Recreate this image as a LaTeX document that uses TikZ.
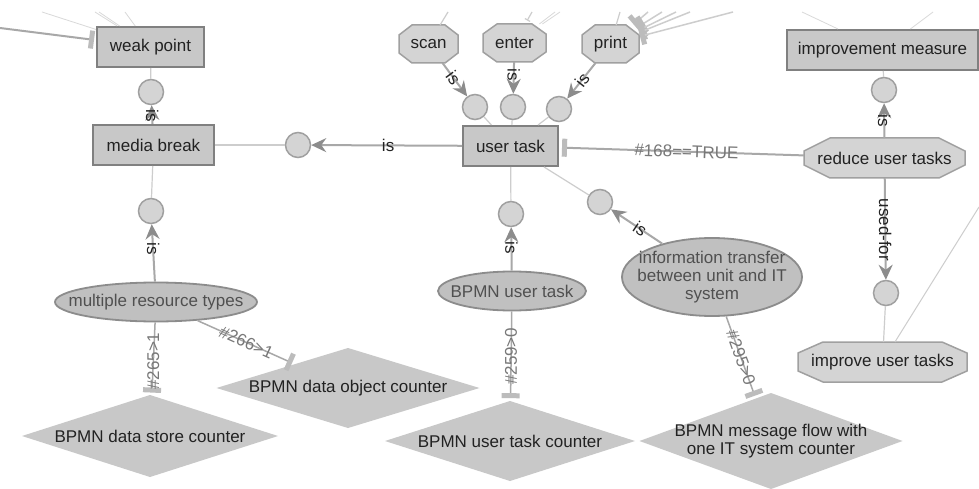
\documentclass[tikz,border=0pt]{standalone}
\usepackage{fontspec}
\setmainfont{Liberation Sans}
\usepackage{tikz}
\usetikzlibrary{shapes.geometric, arrows.meta, backgrounds}

\definecolor{boxfill}{RGB}{200,200,200}
\definecolor{boxline}{RGB}{128,128,128}
\definecolor{dotfill}{RGB}{212,212,212}
\definecolor{dotline}{RGB}{160,160,160}
\definecolor{octfill}{RGB}{212,212,212}
\definecolor{octline}{RGB}{160,160,160}
\definecolor{ellfill}{RGB}{192,192,192}
\definecolor{ellline}{RGB}{140,140,140}
\definecolor{dmdfill}{RGB}{200,200,200}
\definecolor{linkcol}{RGB}{205,205,205}
\definecolor{arrcol}{RGB}{168,168,168}
\definecolor{tipcol}{RGB}{140,140,140}
\definecolor{barcol}{RGB}{188,188,188}
\definecolor{labgray}{RGB}{120,120,120}
\definecolor{txt}{RGB}{34,34,34}
\definecolor{elltxt}{RGB}{80,80,80}

\begin{document}
\begin{tikzpicture}[x=1pt, y=-1pt, font=\fontsize{17pt}{18pt}\selectfont, text=txt,
    box/.style={rectangle, draw=boxline, fill=boxfill, line width=2pt, minimum height=40pt},
    dot/.style={circle, draw=dotline, fill=dotfill, line width=1.5pt, minimum size=25pt, inner sep=0pt},
    octo/.style={rectangle, outer sep=0pt, minimum height=38pt},
    oval/.style={ellipse, draw=ellline, fill=ellfill, line width=1.8pt, inner xsep=-25pt, inner ysep=0pt, text=elltxt, align=center},
    dmd/.style={diamond, fill=dmdfill, aspect=3, inner sep=-15pt, outer sep=0pt, align=center},
    link/.style={draw=linkcol, line width=1.2pt},
    faint/.style={draw=linkcol!75, line width=.8pt},
    isarrow/.style={draw=arrcol, line width=2pt, -{Stealth[length=15pt,width=14pt,inset=5pt,color=tipcol]}},
    tbar/.style={draw=arrcol, line width=1.5pt, shorten >=3pt, -{Bar[width=18pt,line width=5pt,color=barcol]}},
    cntlab/.style={text=labgray}]
    \useasboundingbox (0,0) rectangle (979,489);
    \begin{scope}[on background layer]
        \fill[white] (0,0) rectangle (979,489);
    \end{scope}

    % concepts
    \node[box, minimum width=107pt] (weak) at (150.5,47) {weak point};
    \node[box, minimum width=121pt] (media) at (153.5,145) {media break};
    \node[box, minimum width=95pt] (user) at (510.5,146) {user task};
    \node[box, minimum width=191pt] (measure) at (882.5,50) {improvement measure};

    \node[octo, minimum width=59pt] (scan) at (428.5,44) {scan};
    \node[octo, minimum width=63pt] (enter) at (514.5,43) {enter};
    \node[octo, minimum width=57pt] (print) at (610.5,44) {print};
    \node[octo, minimum width=161pt, minimum height=40pt] (reduce) at (884.5,158) {reduce user tasks};
    \node[octo, minimum width=169pt, minimum height=40pt] (improve) at (882.5,362) {improve user tasks};

    \node[oval, minimum width=202pt, minimum height=39pt] (multi) at (156,302) {multiple resource types};
    \node[oval, minimum width=148pt, minimum height=39pt] (bpmnut) at (512,291) {BPMN user task};
    \node[oval, minimum width=180pt, minimum height=78pt] (info) at (712,277) {information transfer\\between unit and IT\\system};

    \node[dmd, minimum width=256pt, minimum height=82pt] (store) at (150,436) {BPMN data store counter};
    \node[dmd, minimum width=263pt, minimum height=80pt] (object) at (348,388) {BPMN data object counter};
    \node[dmd, minimum width=250pt, minimum height=80pt] (utcount) at (510,441) {BPMN user task counter};
    \node[dmd, minimum width=263pt, minimum height=96pt] (msgflow) at (771,441) {BPMN message flow with\\one IT system counter};

    % relation dots
    \node[dot] (dotweak) at (151,92) {};
    \node[dot] (dotmedia) at (298,145) {};
    \node[dot] (dotres) at (151,211) {};
    \node[dot] (dotscan) at (475,107) {};
    \node[dot] (dotenter) at (513,107) {};
    \node[dot] (dotprint) at (559,109) {};
    \node[dot] (dotbpmn) at (511,214) {};
    \node[dot] (dotinfo) at (600,202) {};
    \node[dot] (dotmeasure) at (884,90) {};
    \node[dot] (dotimprove) at (886,293) {};

    % octagon outlines
    \begin{scope}[on background layer]
        \foreach \n/\cx/\cy in {scan/13/10, enter/14/10, print/13/10, reduce/26/13, improve/25/11}
            \filldraw[fill=octfill, draw=octline, line width=1.5pt]
                ([xshift=\cx pt]\n.north west) -- ([xshift=-\cx pt]\n.north east)
                -- ([yshift=-\cy pt]\n.north east) -- ([yshift=\cy pt]\n.south east)
                -- ([xshift=-\cx pt]\n.south east) -- ([xshift=\cx pt]\n.south west)
                -- ([yshift=\cy pt]\n.south west) -- ([yshift=-\cy pt]\n.north west) -- cycle;
    \end{scope}

    % dot links
    \draw[link] (dotweak) -- (weak);
    \draw[link] (dotmedia) -- (media);
    \draw[link] (dotres) -- (media);
    \draw[link] (dotscan) -- (user);
    \draw[link] (dotenter) -- (user);
    \draw[link] (dotprint) -- (user);
    \draw[link] (dotbpmn) -- (user);
    \draw[link] (dotinfo) -- (user);
    \draw[link] (dotmeasure) -- (measure);
    \draw[link] (dotimprove) -- (improve);

    % is-arrows
    \draw[isarrow] (media) -- node[rotate=-90, pos=.44] {is} (dotweak);
    \draw[isarrow] (user) -- node[pos=.49] {is} (dotmedia);
    \draw[isarrow] (multi) -- node[rotate=-90, pos=.57] {is} (dotres);
    \draw[isarrow] (scan) -- node[sloped, pos=.44] {is} (dotscan);
    \draw[isarrow] (enter) -- node[rotate=-90, pos=.4] {is} (dotenter);
    \draw[isarrow] (print) -- node[sloped, pos=.47] {is} (dotprint);
    \draw[isarrow] (bpmnut) -- node[rotate=-90, pos=.53] {is} (dotbpmn);
    \draw[isarrow] (info) -- node[sloped, pos=.43] {is} (dotinfo);
    \draw[isarrow] (reduce) -- node[rotate=-90, pos=.5] {is} (dotmeasure);
    \draw[isarrow] (reduce) -- node[rotate=-90, pos=.51] {used-for} (dotimprove);

    % counter conditions
    \draw[tbar] (multi) -- node[cntlab, rotate=90, pos=.53] {\#265>1} (store);
    \draw[tbar] (multi) -- node[cntlab, sloped] {\#266>1} (object);
    \draw[tbar] (bpmnut) -- node[cntlab, rotate=90] {\#259>0} (utcount);
    \draw[tbar] (info) -- node[cntlab, sloped] {\#295>0} (msgflow);
    \draw[tbar, line width=2pt] (reduce) -- node[cntlab, sloped, pos=.48] {\#168==TRUE} (user);

    % edges leaving the frame
    \coordinate (offleft) at (0,28);
    \coordinate (offa) at (42,12);
    \coordinate (offb) at (95,12);
    \coordinate (offc) at (99,12);
    \coordinate (offd) at (125,12);
    \coordinate (offscan) at (448,12);
    \coordinate (offenter) at (532,12);
    \coordinate (offe) at (555,12);
    \coordinate (offf) at (560,12);
    \coordinate (offprint) at (620,12);
    \coordinate (offg) at (802,12);
    \coordinate (offh) at (933,12);
    \coordinate (offright) at (979,207);
    \draw[tbar, line width=2pt, shorten >=2pt] (offleft) -- (weak);
    \draw[faint] (offa) -- (weak);
    \draw[faint] (offb) -- (weak);
    \draw[faint] (offc) -- (weak);
    \draw[faint] (offd) -- (weak);
    \draw[link] (offscan) -- (scan);
    \draw[link, shorten >=4pt, -{Bar[width=6pt]}] (offenter) -- (enter);
    \draw[faint] (offe) -- (enter);
    \draw[faint] (offf) -- (enter);
    \draw[link] (offprint) -- (print);
    \foreach \fx in {648, 662, 676, 690, 733}
        \draw[tbar, draw=linkcol, shorten >=1pt] (\fx,12) -- (print);
    \draw[faint] (offg) -- (measure);
    \draw[faint] (offh) -- (measure);
    \draw[link, line width=1pt] (offright) -- (improve);
\end{tikzpicture}
\end{document}
